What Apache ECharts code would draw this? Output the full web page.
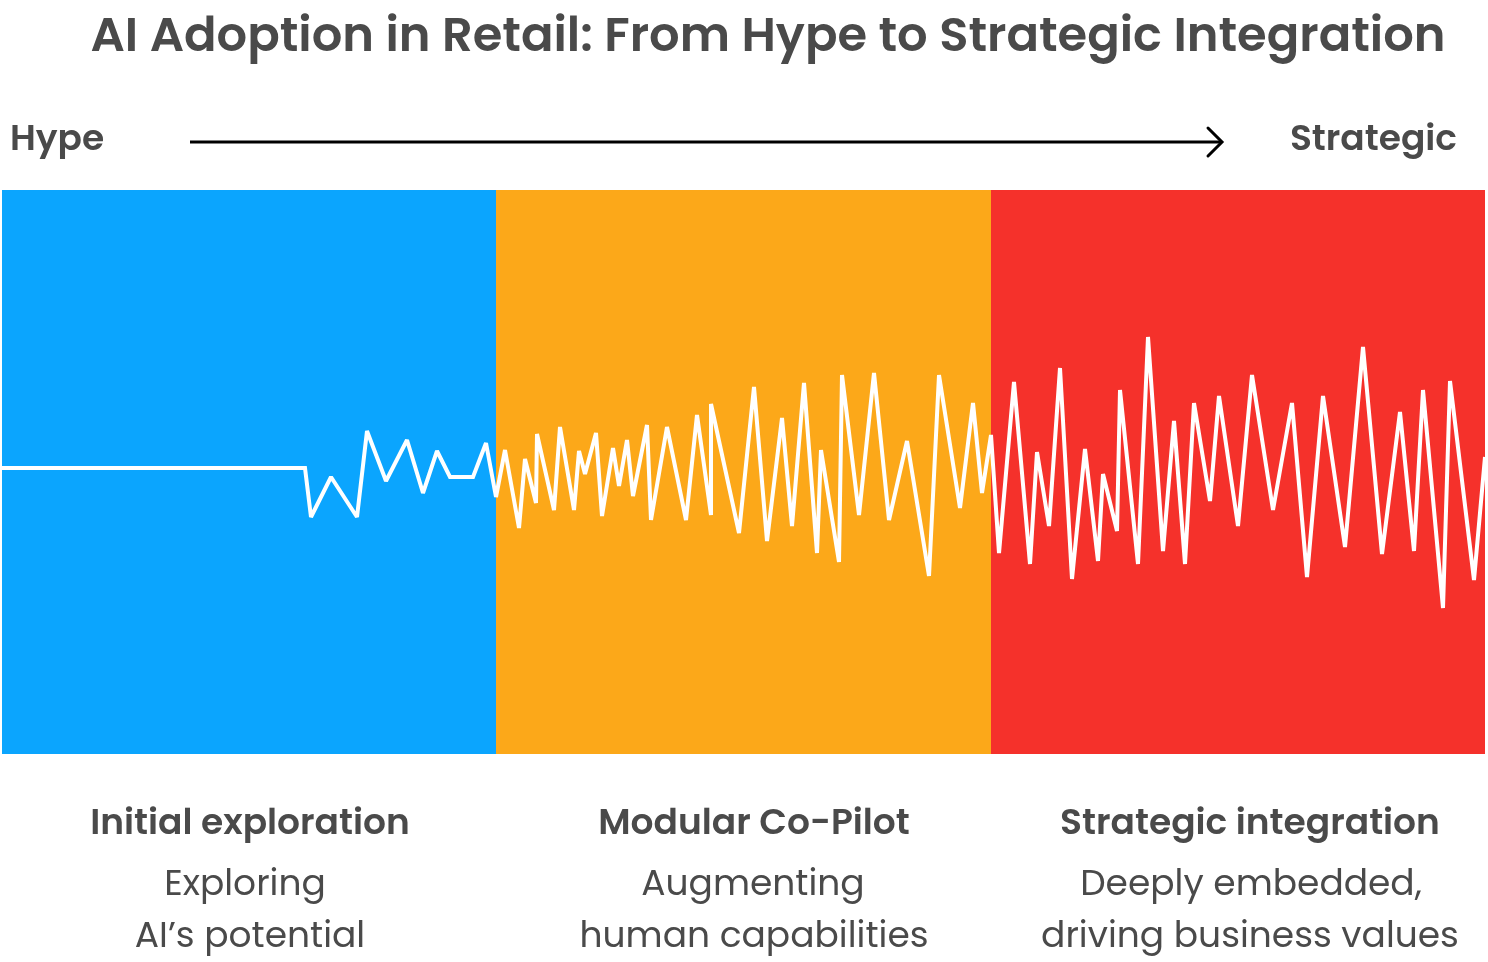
<!DOCTYPE html>
<html>
<head>
<meta charset="utf-8">
<script src="https://cdn.jsdelivr.net/npm/echarts@6/dist/echarts.min.js"></script>
<style>
html,body{margin:0;padding:0;background:#fff;}
#chart{width:1488px;height:962px;}
</style>
</head>
<body>
<div id="chart"></div>
<script>
// ---- data ----
const stageNames = ['Initial exploration', 'Modular Co-Pilot', 'Strategic integration'];
const stageLine1 = ['Exploring', 'Augmenting', 'Deeply embedded,'];
const stageLine2 = ['AI\u2019s potential', 'human capabilities', 'driving business values'];
const stageStart = [0, 494, 989];
const stageEnd = [494, 989, 1483];
const stageColors = ['#0BA5FE', '#FCA819', '#F5312B'];

const steps = [
  0, 303, 309, 329, 355, 365, 384, 405, 421, 435,
  448, 471, 484, 494, 503, 517, 523, 534, 535, 552,
  558, 572, 577, 583, 594, 600, 611, 617, 625, 631,
  645, 649, 665, 684, 695, 709, 709, 737, 752, 765,
  780, 790, 802, 815, 819, 837, 840, 857, 872, 887,
  905, 927, 937, 958, 971, 980, 989, 997, 1012, 1028,
  1035, 1047, 1058, 1070, 1083, 1096, 1101, 1115, 1118, 1136,
  1146, 1161, 1172, 1183, 1192, 1208, 1217, 1236, 1250, 1271,
  1290, 1305, 1321, 1343, 1361, 1380, 1398, 1412, 1421, 1441,
  1448, 1472, 1483
];
const signal = [
  0, 0, -49, -9, -49, 37, -13, 28, -25, 17,
  -9, -9, 25, -29, 18, -60, 9, -35, 34, -42,
  41, -42, 17, -6, 35, -48, 20, -18, 28, -28,
  43, -52, 41, -52, 53, -47, 64, -65, 81, -73,
  50, -58, 85, -85, 18, -94, 93, -47, 95, -52,
  27, -108, 93, -40, 65, -25, 33, -85, 86, -96,
  16, -58, 100, -111, 19, -93, -6, -63, 78, -96,
  131, -83, 47, -96, 65, -33, 72, -58, 93, -42,
  65, -109, 72, -79, 121, -86, 56, -83, 78, -140,
  87, -112, 11
];
const titleText = 'AI Adoption in Retail: From Hype to Strategic Integration';
const startLabel = 'Hype';
const endLabel = 'Strategic';

// ---- chart ----
const FONT = 'Poppins, "Open Sans", sans-serif';
const TXT = '#4A4A4A';
const chart = echarts.init(document.getElementById('chart'));

const lineData = steps.map((t, i) => [t, signal[i]]);
const areas = stageStart.map((s, i) => [
  { xAxis: s, itemStyle: { color: stageColors[i], opacity: 1 } },
  { xAxis: stageEnd[i] }
]);

const labelCenters = [250, 754, 1250];
const line1Centers = [245, 753, 1251];
const texts = [];
stageNames.forEach((n, i) => {
  texts.push({ type: 'text', x: labelCenters[i], y: 825,
    style: { text: n, font: '600 36px ' + FONT, fill: TXT, align: 'center', verticalAlign: 'middle' } });
  texts.push({ type: 'text', x: line1Centers[i], y: 886,
    style: { text: stageLine1[i], font: '400 36px ' + FONT, fill: TXT, align: 'center', verticalAlign: 'middle' } });
  texts.push({ type: 'text', x: labelCenters[i], y: 938,
    style: { text: stageLine2[i], font: '400 36px ' + FONT, fill: TXT, align: 'center', verticalAlign: 'middle' } });
});

chart.setOption({
  animation: false,
  backgroundColor: '#ffffff',
  grid: { left: 2, right: 3, top: 190, bottom: 208 },
  xAxis: { type: 'value', min: 0, max: 1483, show: false },
  yAxis: { type: 'value', min: -286, max: 278, show: false },
  series: [{
    type: 'line',
    data: lineData,
    symbol: 'none',
    lineStyle: { color: '#ffffff', width: 4, join: 'miter', miterLimit: 1.6 },
    markArea: { silent: true, data: areas },
    z: 3
  }],
  graphic: [
    { type: 'text', x: 768, y: 39,
      style: { text: titleText, font: '600 48px ' + FONT, fill: TXT, align: 'center', verticalAlign: 'middle' } },
    { type: 'text', x: 10, y: 141,
      style: { text: startLabel, font: '600 36px ' + FONT, fill: TXT, align: 'left', verticalAlign: 'middle' } },
    { type: 'text', x: 1457, y: 141,
      style: { text: endLabel, font: '600 36px ' + FONT, fill: TXT, align: 'right', verticalAlign: 'middle' } },
    { type: 'line', shape: { x1: 190, y1: 142, x2: 1222, y2: 142 },
      style: { stroke: '#000', lineWidth: 3 } },
    { type: 'polyline', shape: { points: [[1208, 128], [1222, 142], [1208, 156]] },
      style: { stroke: '#000', lineWidth: 3, fill: null, lineCap: 'round', lineJoin: 'miter' } }
  ].concat(texts)
});
</script>
</body>
</html>
